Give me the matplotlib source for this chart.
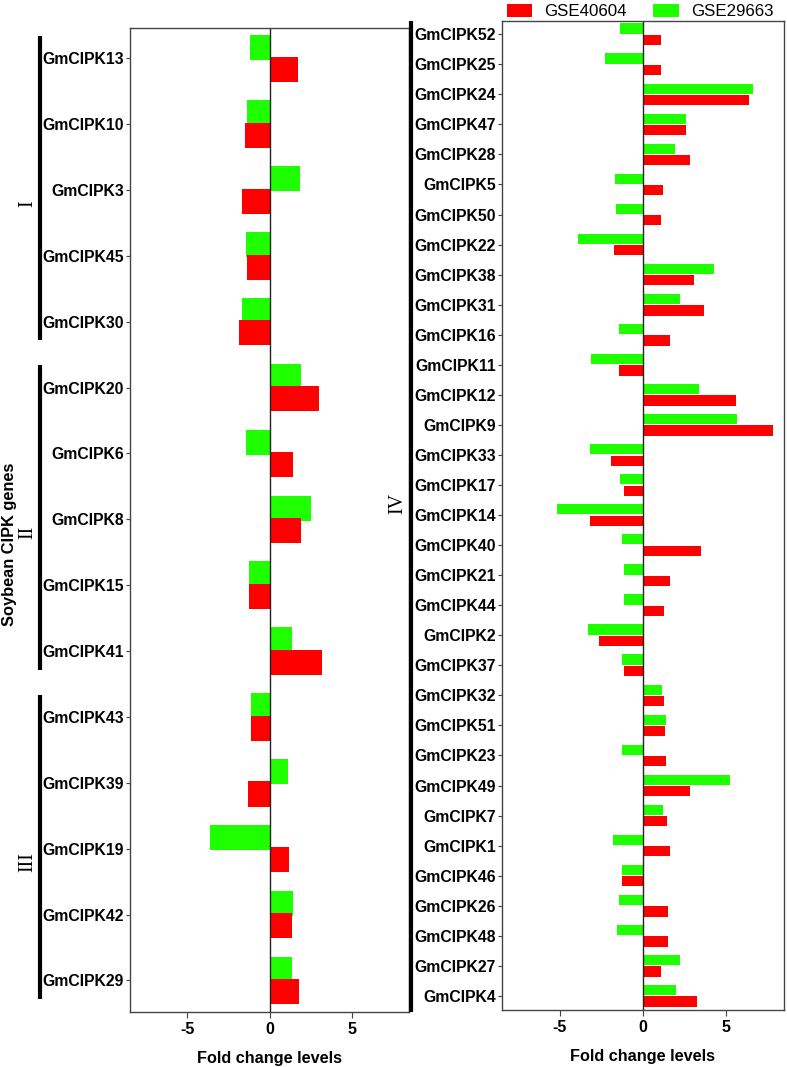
import matplotlib
matplotlib.use('Agg')
import matplotlib.pyplot as plt
import matplotlib.transforms as mtrans
import numpy as np

plt.rcParams['font.family'] = ['Liberation Sans', 'DejaVu Sans']

# left panel (groups I-III)
genes_left = ['GmCIPK13', 'GmCIPK10', 'GmCIPK3', 'GmCIPK45', 'GmCIPK30',
              'GmCIPK20', 'GmCIPK6', 'GmCIPK8', 'GmCIPK15', 'GmCIPK41',
              'GmCIPK43', 'GmCIPK39', 'GmCIPK19', 'GmCIPK42', 'GmCIPK29']
gse29663_left = [-1.21, -1.36, 1.88, -1.44, -1.66,
                 1.92, -1.46, 2.55, -1.23, 1.38,
                 -1.11, 1.15, -3.62, 1.42, 1.36]
gse40604_left = [1.72, -1.48, -1.68, -1.36, -1.88,
                 3.04, 1.42, 1.92, -1.23, 3.18,
                 -1.11, -1.32, 1.17, 1.36, 1.80]

# right panel (group IV)
genes_right = ['GmCIPK52', 'GmCIPK25', 'GmCIPK24', 'GmCIPK47', 'GmCIPK28',
               'GmCIPK5', 'GmCIPK50', 'GmCIPK22', 'GmCIPK38', 'GmCIPK31',
               'GmCIPK16', 'GmCIPK11', 'GmCIPK12', 'GmCIPK9', 'GmCIPK33',
               'GmCIPK17', 'GmCIPK14', 'GmCIPK40', 'GmCIPK21', 'GmCIPK44',
               'GmCIPK2', 'GmCIPK37', 'GmCIPK32', 'GmCIPK51', 'GmCIPK23',
               'GmCIPK49', 'GmCIPK7', 'GmCIPK1', 'GmCIPK46', 'GmCIPK26',
               'GmCIPK48', 'GmCIPK27', 'GmCIPK4']
gse29663_right = [-1.40, -2.32, 6.66, 2.58, 1.94,
                  -1.68, -1.64, -3.90, 4.30, 2.24,
                  -1.42, -3.12, 3.38, 5.68, -3.22,
                  -1.36, -5.16, -1.28, -1.16, -1.16,
                  -3.32, -1.24, 1.16, 1.40, -1.28,
                  5.26, 1.20, -1.82, -1.26, -1.46,
                  -1.54, 2.24, 1.96]
gse40604_right = [1.06, 1.10, 6.42, 2.58, 2.84,
                  1.20, 1.06, -1.76, 3.10, 3.66,
                  1.60, -1.42, 5.58, 7.86, -1.92,
                  -1.12, -3.22, 3.48, 1.62, 1.24,
                  -2.68, -1.12, 1.24, 1.30, 1.38,
                  2.82, 1.42, 1.62, -1.28, 1.52,
                  1.52, 1.10, 3.24]

groups_left = [('I', 0, 4), ('II', 5, 9), ('III', 10, 14)]

RED = '#ff0000'
GREEN = '#1eff00'
W, H = 787, 1067

fig = plt.figure(figsize=(W / 100, H / 100), dpi=100)
ax1 = fig.add_axes([130 / W, (H - 1012) / H, 279 / W, 984 / H])
ax2 = fig.add_axes([502 / W, (H - 1010) / H, 282 / W, 989 / H])


def draw_panel(ax, genes, g_vals, r_vals, off, height):
    y = np.arange(len(genes))
    ax.barh(y - off, g_vals, height=height, color=GREEN, label='GSE29663')
    ax.barh(y + off, r_vals, height=height, color=RED, label='GSE40604')
    ax.axvline(0, color='#222222', lw=1.0)
    ax.set_yticks(y)
    ax.set_yticklabels(genes, fontsize=11.3, fontweight='bold')
    ax.set_xlim(-8.5, 8.5)
    ax.set_xticks([-5, 0, 5])
    ax.set_xticklabels(['-5', '0', '5'], fontsize=11.5, fontweight='bold')
    ax.tick_params(axis='y', length=3, width=0.8, pad=1.5, color='#444444')
    ax.tick_params(axis='x', length=4, width=0.8, pad=3, color='#444444')
    for s in ax.spines.values():
        s.set_color('#444444')
        s.set_linewidth(1.0)
    ax.set_xlabel('Fold change levels', fontsize=11.7, fontweight='bold', labelpad=10)


draw_panel(ax1, genes_left, gse29663_left, gse40604_left, 0.17, 0.38)
draw_panel(ax2, genes_right, gse29663_right, gse40604_right, 0.19, 0.34)
ax1.set_ylim(14.48, -0.46)
ax2.set_ylim(32.47, -0.44)

# group brackets on the left panel
tr1 = mtrans.blended_transform_factory(ax1.transAxes, ax1.transData)
for name, a, b in groups_left:
    ax1.plot([-0.324, -0.324], [a - 0.34, b + 0.28], color='black', lw=3,
             transform=tr1, clip_on=False, solid_capstyle='butt')
    ax1.text(-0.365, (a + b) / 2 + 0.2, name, rotation=90, ha='center', va='center',
             fontsize=14.5, family='Liberation Serif', transform=tr1)

# group IV bracket
tr2 = mtrans.blended_transform_factory(ax2.transAxes, ax2.transData)
ax2.plot([-0.323, -0.323], [1.0, -0.002], color='black', lw=3,
         transform=ax2.transAxes, clip_on=False, solid_capstyle='butt')
ax2.text(-0.37, 15.6, 'IV', rotation=90, ha='center', va='center',
         fontsize=14.5, family='Liberation Serif', transform=tr2)

fig.text(10 / W, 1 - 544 / H, 'Soybean CIPK genes', rotation=90, ha='center',
         va='center', fontsize=11.8, fontweight='bold')

handles, labels = ax2.get_legend_handles_labels()
ax2.legend(handles[::-1], labels[::-1], loc='lower left', bbox_to_anchor=(0.01, 1.0),
           ncol=2, frameon=False, fontsize=12.2, handlelength=1.5, handleheight=0.85,
           handletextpad=0.7, columnspacing=1.6, borderaxespad=0.1, borderpad=0)

fig.savefig('out.png', dpi=100)
